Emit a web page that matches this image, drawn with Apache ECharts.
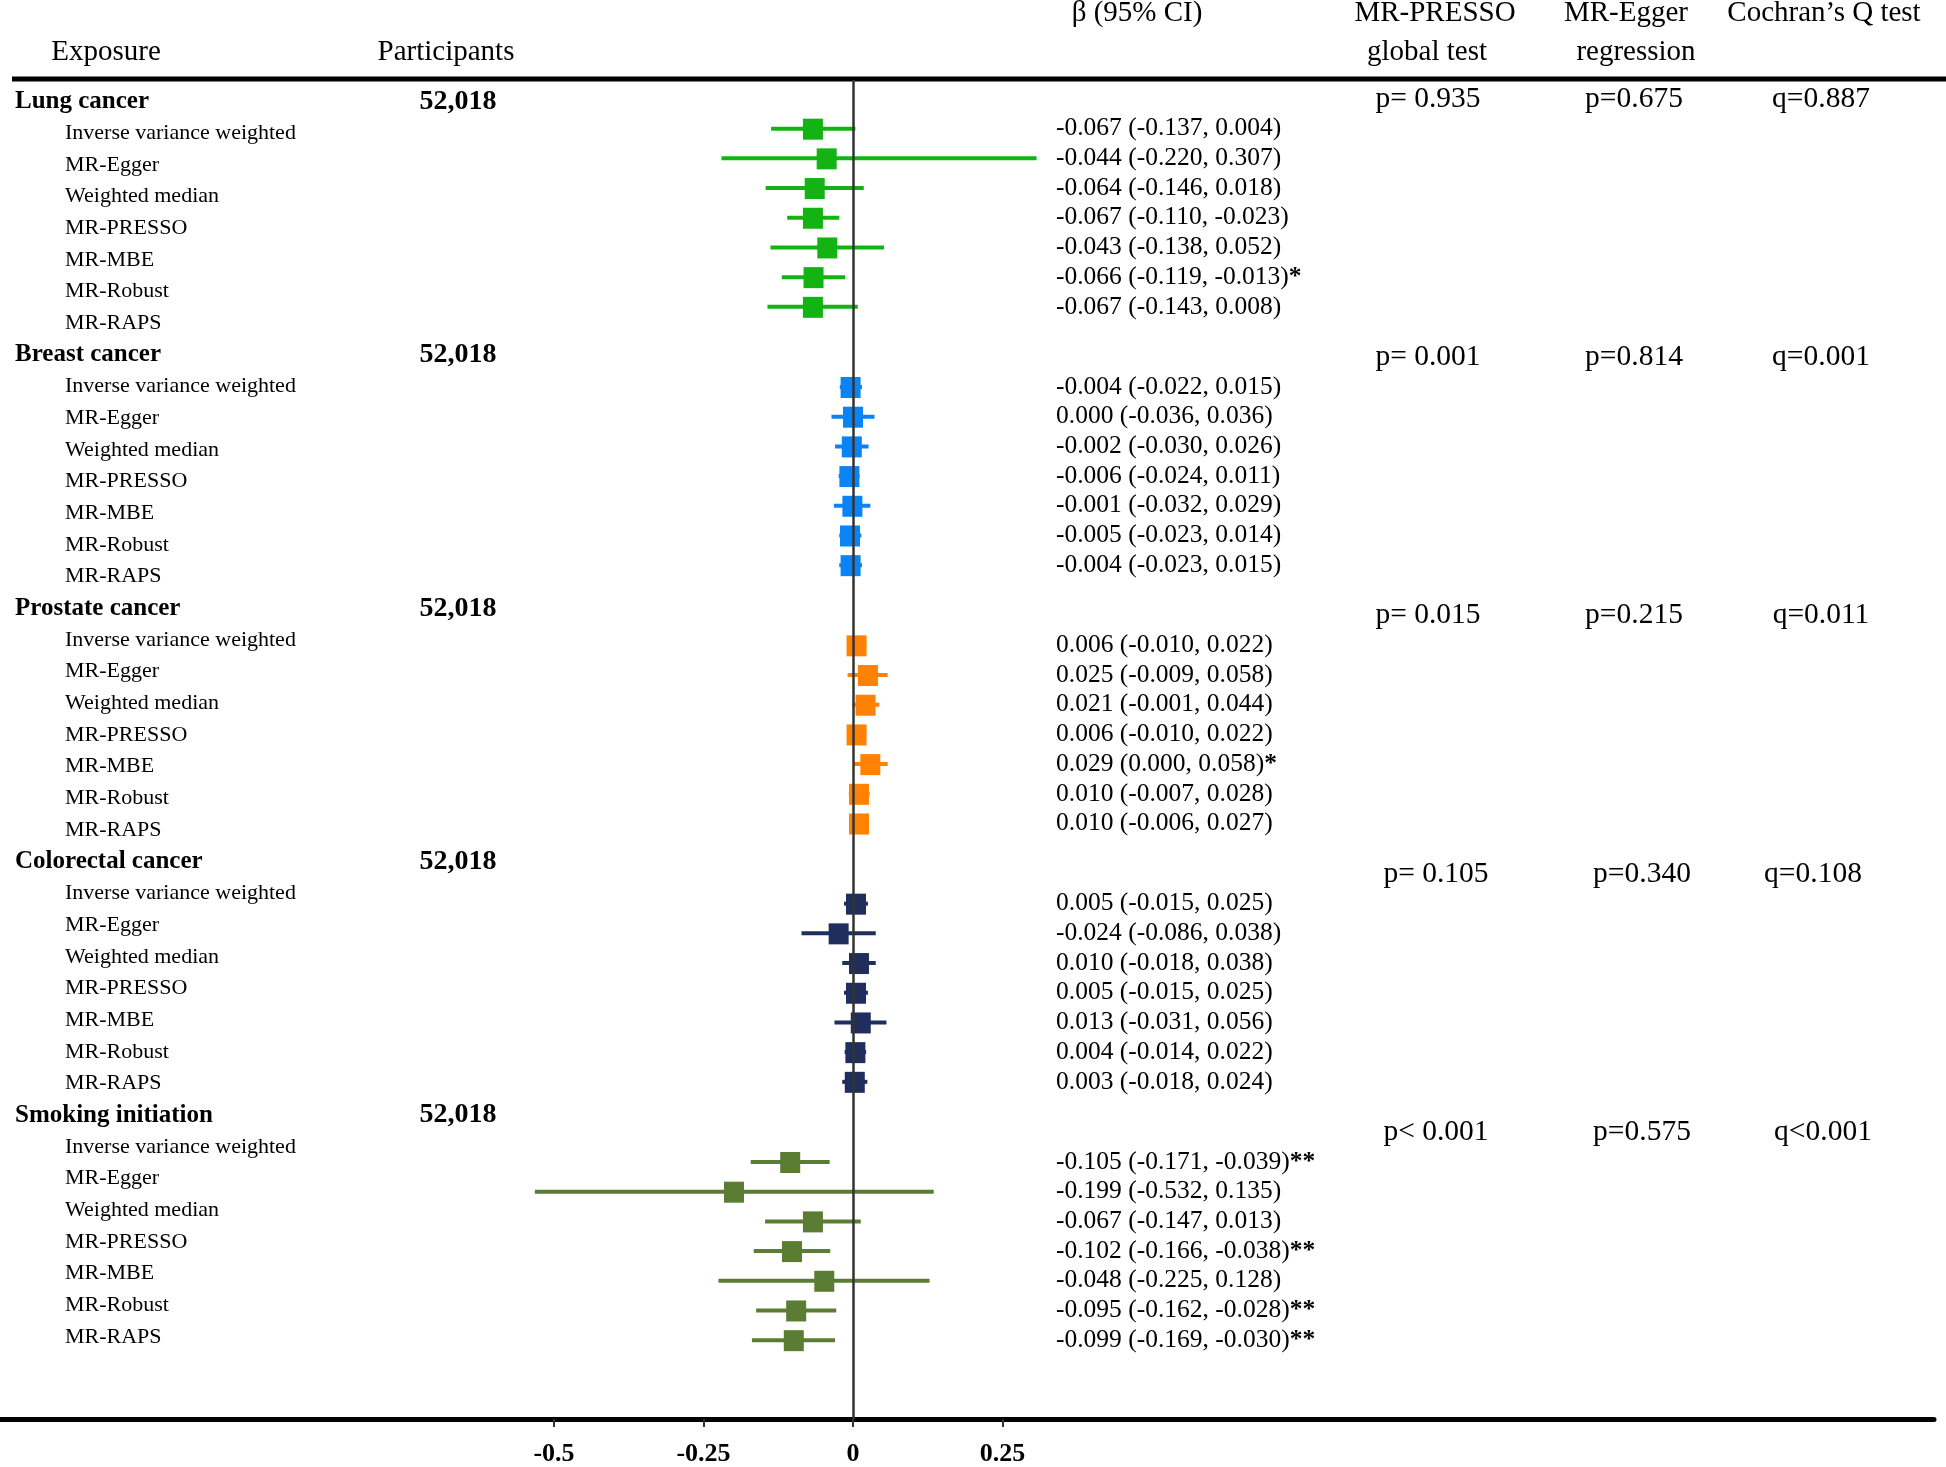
<!DOCTYPE html>
<html>
<head>
<meta charset="utf-8">
<script src="https://cdn.jsdelivr.net/npm/echarts@6/dist/echarts.min.js"></script>
<style>
  html, body { margin: 0; padding: 0; background: #fff; }
  #chart { width: 1946px; height: 1467px; }
</style>
</head>
<body>
<div id="chart"></div>
<script>
// --- data ---
var groups = ['Lung cancer', 'Breast cancer', 'Prostate cancer', 'Colorectal cancer', 'Smoking initiation'];
var methods = ['Inverse variance weighted', 'MR-Egger', 'Weighted median', 'MR-PRESSO', 'MR-MBE', 'MR-Robust', 'MR-RAPS'];
var participants = ['52,018', '52,018', '52,018', '52,018', '52,018'];

var lungBeta = [-0.067, -0.044, -0.064, -0.067, -0.043, -0.066, -0.067];
var lungLow  = [-0.137, -0.220, -0.146, -0.110, -0.138, -0.119, -0.143];
var lungHigh = [0.004, 0.307, 0.018, -0.023, 0.052, -0.013, 0.008];
var lungSig  = ['', '', '', '', '', '*', ''];

var breastBeta = [-0.004, 0.000, -0.002, -0.006, -0.001, -0.005, -0.004];
var breastLow  = [-0.022, -0.036, -0.030, -0.024, -0.032, -0.023, -0.023];
var breastHigh = [0.015, 0.036, 0.026, 0.011, 0.029, 0.014, 0.015];
var breastSig  = ['', '', '', '', '', '', ''];

var prostateBeta = [0.006, 0.025, 0.021, 0.006, 0.029, 0.010, 0.010];
var prostateLow  = [-0.010, -0.009, -0.001, -0.010, 0.000, -0.007, -0.006];
var prostateHigh = [0.022, 0.058, 0.044, 0.022, 0.058, 0.028, 0.027];
var prostateSig  = ['', '', '', '', '*', '', ''];

var colorectalBeta = [0.005, -0.024, 0.010, 0.005, 0.013, 0.004, 0.003];
var colorectalLow  = [-0.015, -0.086, -0.018, -0.015, -0.031, -0.014, -0.018];
var colorectalHigh = [0.025, 0.038, 0.038, 0.025, 0.056, 0.022, 0.024];
var colorectalSig  = ['', '', '', '', '', '', ''];

var smokingBeta = [-0.105, -0.199, -0.067, -0.102, -0.048, -0.095, -0.099];
var smokingLow  = [-0.171, -0.532, -0.147, -0.166, -0.225, -0.162, -0.169];
var smokingHigh = [-0.039, 0.135, 0.013, -0.038, 0.128, -0.028, -0.030];
var smokingSig  = ['**', '', '', '**', '', '**', '**'];

var pressoGlobal = ['p= 0.935', 'p= 0.001', 'p= 0.015', 'p= 0.105', 'p< 0.001'];
var eggerRegression = ['p=0.675', 'p=0.814', 'p=0.215', 'p=0.340', 'p=0.575'];
var cochranQ = ['q=0.887', 'q=0.001', 'q=0.011', 'q=0.108', 'q<0.001'];

var xTicks = [-0.5, -0.25, 0, 0.25];

var allBeta = [lungBeta, breastBeta, prostateBeta, colorectalBeta, smokingBeta];
var allLow = [lungLow, breastLow, prostateLow, colorectalLow, smokingLow];
var allHigh = [lungHigh, breastHigh, prostateHigh, colorectalHigh, smokingHigh];
var allSig = [lungSig, breastSig, prostateSig, colorectalSig, smokingSig];

// --- layout ---
var colors = ['#12b312', '#0a84f5', '#ff8205', '#1f2e5c', '#5a7d33'];
var FONT = "'Liberation Serif', 'Times New Roman', serif";
var GROUP_STEP = 8.7;   // forest rows per group block (incl. gap)
// stat column x positions (the original shifts the lower blocks a bit)
var pressoX = [1428, 1428, 1428, 1436, 1436];
var eggerX = [1634, 1634, 1634, 1642, 1642];
var cochranX = [1821, 1821, 1821, 1813, 1823];

function fmt(v) { return v.toFixed(3); }

var forestData = [];
var ciData = [], ciText = [];
var labelData = [], labelText = [], labelBold = [];
var partData = [];
var statData = [];
groups.forEach(function (g, gi) {
  labelData.push([0, gi * 8]); labelText.push(g); labelBold.push(true);
  partData.push([0, gi * 8]);
  statData.push([0, gi * GROUP_STEP - 1]);
  methods.forEach(function (m, k) {
    labelData.push([0, gi * 8 + 1 + k]); labelText.push(m); labelBold.push(false);
    var yv = gi * GROUP_STEP + k;
    forestData.push([allLow[gi][k], allHigh[gi][k], allBeta[gi][k], yv, gi]);
    ciData.push([0, yv]);
    ciText.push(fmt(allBeta[gi][k]) + ' (' + fmt(allLow[gi][k]) + ', ' + fmt(allHigh[gi][k]) + ')' +
      (allSig[gi][k] ? '{s|' + allSig[gi][k] + '}' : ''));
  });
});

function pick(v, i) { return typeof v === 'function' ? v(i) : v; }

function textSeries(name, yAxisIndex, data, getText, x, align, size, bold) {
  return {
    type: 'custom', name: name, xAxisIndex: 0, yAxisIndex: yAxisIndex,
    data: data, encode: { x: 0, y: 1 }, silent: true, z: 3,
    renderItem: function (params, api) {
      var i = params.dataIndex;
      var y = api.coord([0, api.value(1)])[1];
      var fs = pick(size, i);
      return {
        type: 'text', x: pick(x, i), y: y,
        style: {
          text: getText(i),
          fontFamily: FONT, fontSize: fs, fontWeight: pick(bold, i) ? 'bold' : 'normal',
          fill: '#000', align: align, verticalAlign: 'middle',
          rich: { s: { fontFamily: FONT, fontSize: fs, fontWeight: 'bold', fill: '#000' } }
        }
      };
    }
  };
}

function headerText(text, x, y) {
  return {
    type: 'text', x: x, y: y,
    style: { text: text, fontFamily: FONT, fontSize: 29, fill: '#000', align: 'center', verticalAlign: 'middle' }
  };
}

var chart = echarts.init(document.getElementById('chart'));
chart.setOption({
  animation: false,
  backgroundColor: '#fff',
  grid: { left: 0, right: 12, top: 80, bottom: 31, containLabel: false },
  xAxis: {
    type: 'value', min: -1.4264, max: 1.8077,
    splitLine: { show: false },
    axisLine: { onZero: false, lineStyle: { color: '#000', width: 5 } },
    axisTick: { customValues: xTicks, length: 8, lineStyle: { color: '#333', width: 2 } },
    axisLabel: {
      customValues: xTicks, margin: 22,
      fontFamily: FONT, fontSize: 26, fontWeight: 'bold', color: '#000',
      formatter: function (v) { return String(v); }
    }
  },
  yAxis: [
    { type: 'value', inverse: true, min: -0.679, max: 41.593, show: false },
    { type: 'value', inverse: true, min: -1.639, max: 43.455, show: false }
  ],
  graphic: [
    { type: 'line', shape: { x1: 12, y1: 79, x2: 1946, y2: 79 }, style: { stroke: '#000', lineWidth: 5 } },
    headerText('Exposure', 106, 52),
    headerText('Participants', 446, 52),
    headerText('\u03b2 (95% CI)', 1137, 13),
    headerText('MR-PRESSO', 1435, 13),
    headerText('global test', 1427, 52),
    headerText('MR-Egger', 1626, 13),
    headerText('regression', 1636, 52),
    headerText('Cochran\u2019s Q test', 1824, 13)
  ],
  series: [
    {
      type: 'custom', name: 'forest', xAxisIndex: 0, yAxisIndex: 1,
      data: forestData, encode: { x: [0, 1, 2], y: 3 }, z: 2,
      renderItem: function (params, api) {
        var y = api.coord([0, api.value(3)])[1];
        var lo = api.coord([api.value(0), 0])[0];
        var hi = api.coord([api.value(1), 0])[0];
        var est = api.coord([api.value(2), 0])[0];
        var c = colors[api.value(4)];
        return {
          type: 'group',
          children: [
            { type: 'line', shape: { x1: lo, y1: y, x2: hi, y2: y }, style: { stroke: c, lineWidth: 4 } },
            { type: 'rect', shape: { x: est - 10, y: y - 10, width: 20, height: 21 }, style: { fill: c } }
          ]
        };
      },
      markLine: {
        silent: true, symbol: 'none', z: 10, animation: false,
        label: { show: false },
        lineStyle: { color: '#333', width: 2.5, type: 'solid' },
        data: [{ xAxis: 0 }]
      }
    },
    textSeries('labels', 0, labelData, function (i) { return labelText[i]; },
      function (i) { return labelBold[i] ? 15 : 65; }, 'left',
      function (i) { return labelBold[i] ? 25 : 22; },
      function (i) { return labelBold[i]; }),
    textSeries('participants', 0, partData, function (i) { return participants[i]; }, 458, 'center', 28, true),
    textSeries('ci', 1, ciData, function (i) { return ciText[i]; }, 1056, 'left', 25.5, false),
    textSeries('presso', 1, statData, function (i) { return pressoGlobal[i]; },
      function (i) { return pressoX[i]; }, 'center', 29.5, false),
    textSeries('egger', 1, statData, function (i) { return eggerRegression[i]; },
      function (i) { return eggerX[i]; }, 'center', 29.5, false),
    textSeries('cochran', 1, statData, function (i) { return cochranQ[i]; },
      function (i) { return cochranX[i]; }, 'center', 29.5, false)
  ]
});
</script>
</body>
</html>
